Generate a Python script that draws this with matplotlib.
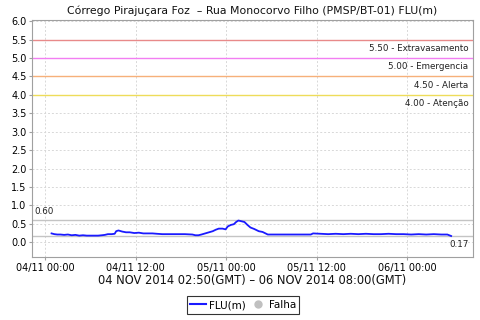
import datetime as dt
import matplotlib
matplotlib.use("Agg")
import matplotlib.pyplot as plt
import matplotlib.dates as mdates
from matplotlib.lines import Line2D

# dados (horas a partir de 04/11 00:00, nivel em m)
horas = [0.83, 1.2, 1.6, 2.0, 2.5, 3.0, 3.5, 4.0, 4.5, 5.0, 5.5, 6.0, 6.5, 7.0, 7.5, 7.9,
         8.3, 8.8, 9.2, 9.4, 9.7, 10.2, 10.7, 11.2, 11.8, 12.4, 13.0, 13.6, 14.2, 14.8,
         15.5, 16.5, 17.5, 18.5, 19.5, 19.9, 20.3, 20.7, 21.2, 21.7, 22.2, 22.6, 23.0,
         23.5, 23.9, 24.2, 24.6, 25.0, 25.3, 25.6, 26.0, 26.4, 26.8, 27.2, 27.7, 28.3,
         28.8, 29.5, 30.5, 31.5, 32.5, 33.5, 34.5, 35.2, 35.5, 36.5, 37.5, 38.5, 39.5,
         40.5, 41.5, 42.5, 43.5, 44.5, 45.5, 46.5, 47.5, 48.5, 49.5, 50.5, 51.5, 52.5,
         53.3, 53.8]
nivel = [0.24, 0.22, 0.21, 0.21, 0.20, 0.21, 0.19, 0.20, 0.18, 0.19, 0.18, 0.18, 0.18, 0.18, 0.19, 0.20,
         0.22, 0.22, 0.23, 0.30, 0.32, 0.29, 0.27, 0.27, 0.25, 0.26, 0.24, 0.24, 0.24, 0.23,
         0.22, 0.22, 0.22, 0.22, 0.21, 0.19, 0.19, 0.21, 0.24, 0.27, 0.30, 0.34, 0.37,
         0.37, 0.35, 0.43, 0.47, 0.49, 0.55, 0.59, 0.57, 0.55, 0.47, 0.40, 0.36, 0.30,
         0.28, 0.21, 0.21, 0.21, 0.21, 0.21, 0.21, 0.21, 0.24, 0.23, 0.22, 0.23, 0.22,
         0.23, 0.22, 0.23, 0.22, 0.22, 0.23, 0.22, 0.22, 0.21, 0.22, 0.21, 0.22, 0.21,
         0.21, 0.17]

limites = [5.5, 5.0, 4.5, 4.0]
nomes_limites = ["5.50 - Extravasamento", "5.00 - Emergencia", "4.50 - Alerta", "4.00 - Atenção"]
cores_limites = ["#e88a8a", "#f27ef2", "#f6b07a", "#eedc5a"]
maximo, minimo = 0.60, 0.17

inicio = dt.datetime(2014, 11, 4)
tempos = [inicio + dt.timedelta(hours=h) for h in horas]

fig = plt.figure(figsize=(4.8, 3.2), dpi=100)
ax = fig.add_axes([32 / 480, 1 - 257 / 320, 441 / 480, 237 / 320])

for v, nome, cor in zip(limites, nomes_limites, cores_limites):
    ax.axhline(v, color=cor, lw=1, zorder=2)
    ax.text(0.99, v - 0.12, nome, transform=ax.get_yaxis_transform(), ha="right", va="top",
            fontsize=6.3, color="#222222")

ax.axhline(maximo, color="#c4c4c4", lw=1, zorder=2)
ax.axhline(minimo, color="#c4c4c4", lw=1, zorder=2)
ax.text(0.005, maximo + 0.1, f"{maximo:.2f}", transform=ax.get_yaxis_transform(), ha="left",
        va="bottom", fontsize=6.3, color="#222222")
ax.text(0.99, minimo - 0.1, f"{minimo:.2f}", transform=ax.get_yaxis_transform(), ha="right",
        va="top", fontsize=6.3, color="#222222")

ax.plot(tempos, nivel, color="#1a1aff", lw=1.3, zorder=3)

ax.set_ylim(-0.4, 6.03)
ax.set_yticks([i * 0.5 for i in range(13)])
ax.set_xlim(inicio - dt.timedelta(hours=1.76), inicio + dt.timedelta(hours=56.7))
ax.xaxis.set_major_locator(mdates.HourLocator(byhour=[0, 12]))
ax.xaxis.set_major_formatter(mdates.DateFormatter("%d/%m %H:%M"))
ax.grid(True, color="#d8d8d8", ls=(0, (2, 2)), lw=0.7)
ax.set_axisbelow(True)
for s in ax.spines.values():
    s.set_color("#a0a0a0")
ax.tick_params(labelsize=7, color="#a0a0a0", length=2, pad=2)

ax.set_title("Córrego Pirajuçara Foz  – Rua Monocorvo Filho (PMSP/BT-01) FLU(m)",
             fontsize=7.8, pad=4, color="#111111")
ax.set_xlabel("04 NOV 2014 02:50(GMT) – 06 NOV 2014 08:00(GMT)", fontsize=8.3, labelpad=1,
              color="#111111")

handles = [Line2D([], [], color="#1a1aff", lw=1.5),
           Line2D([], [], color="#c0c0c0", marker="o", ls="none", markersize=5)]
leg = fig.legend(handles, ["FLU(m)", "Falha"], loc="center", bbox_to_anchor=(243 / 480, 1 - 305 / 320),
                 ncol=2, fontsize=7.5, frameon=True, fancybox=False, handlelength=1.5,
                 handletextpad=0.3, columnspacing=0.4, borderpad=0.35, borderaxespad=0)
leg.get_frame().set_edgecolor("black")
leg.get_frame().set_linewidth(0.8)

fig.savefig("out.png", dpi=100)
